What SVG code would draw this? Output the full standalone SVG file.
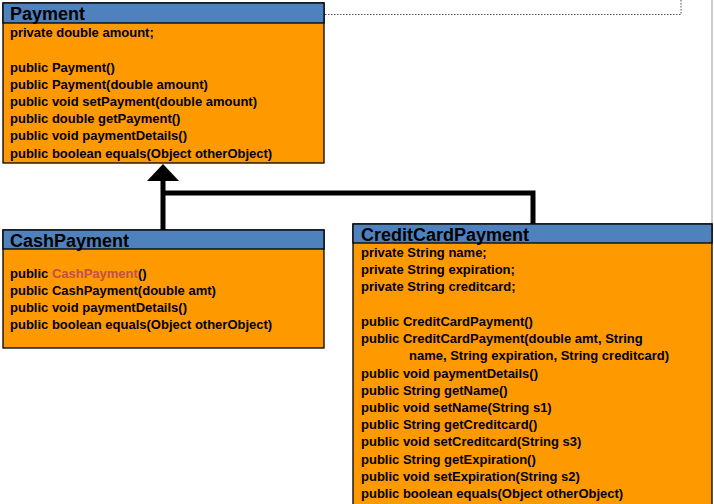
<svg xmlns="http://www.w3.org/2000/svg" width="714" height="504" viewBox="0 0 714 504">
<style>
.box{fill:#ff9900;stroke:#000;stroke-width:1.3}
.hd{fill:#4f81bd;stroke:#000;stroke-width:1.3}
.t{font-family:"Liberation Sans",Arial,sans-serif;font-weight:bold;font-size:13px;fill:#000}
.ti{font-family:"Liberation Sans",Arial,sans-serif;font-weight:bold;font-size:18px;fill:#000}
</style>
<rect width="714" height="504" fill="#fff"/>
<path d="M325 14.5H681V0" fill="none" stroke="#555" stroke-dasharray="1.5,1.5"/>
<line x1="712" y1="0" x2="712" y2="230" stroke="#ccc" stroke-width="2"/>
<g id="connectors">
<path d="M163 230V178M163 193H533V224" fill="none" stroke="#000" stroke-width="5"/>
<polygon points="163,164 147,181 179,181" fill="#000"/>
</g>
<g id="Payment">
<rect class="box" x="3" y="3" width="321" height="160"/>
<rect class="hd" x="3" y="3" width="321" height="20"/>
<text class="ti" x="10" y="20">Payment</text>
<text class="t" x="10" y="37">private double amount;</text>
<text class="t" x="10" y="72">public Payment()</text>
<text class="t" x="10" y="89">public Payment(double amount)</text>
<text class="t" x="10" y="106">public void setPayment(double amount)</text>
<text class="t" x="10" y="123">public double getPayment()</text>
<text class="t" x="10" y="140">public void paymentDetails()</text>
<text class="t" x="10" y="158">public boolean equals(Object otherObject)</text>
</g>
<g id="CashPayment">
<rect class="box" x="3" y="230" width="321" height="118"/>
<rect class="hd" x="3" y="230" width="321" height="19"/>
<text class="ti" x="10" y="247">CashPayment</text>
<text class="t" x="10" y="278">public <tspan fill="#c0504d">CashPayment</tspan>()</text>
<text class="t" x="10" y="295">public CashPayment(double amt)</text>
<text class="t" x="10" y="312">public void paymentDetails()</text>
<text class="t" x="10" y="329">public boolean equals(Object otherObject)</text>
</g>
<g id="CreditCardPayment">
<rect class="box" x="353" y="224" width="359" height="282"/>
<rect class="hd" x="353" y="224" width="359" height="19"/>
<text class="ti" x="361" y="241">CreditCardPayment</text>
<text class="t" x="361" y="257">private String name;</text>
<text class="t" x="361" y="274">private String expiration;</text>
<text class="t" x="361" y="291">private String creditcard;</text>
<text class="t" x="361" y="326">public CreditCardPayment()</text>
<text class="t" x="361" y="343">public CreditCardPayment(double amt, String</text>
<text class="t" x="409" y="360">name, String expiration, String creditcard)</text>
<text class="t" x="361" y="378">public void paymentDetails()</text>
<text class="t" x="361" y="395">public String getName()</text>
<text class="t" x="361" y="412">public void setName(String s1)</text>
<text class="t" x="361" y="429">public String getCreditcard()</text>
<text class="t" x="361" y="446">public void setCreditcard(String s3)</text>
<text class="t" x="361" y="464">public String getExpiration()</text>
<text class="t" x="361" y="481">public void setExpiration(String s2)</text>
<text class="t" x="361" y="498">public boolean equals(Object otherObject)</text>
</g>
</svg>
